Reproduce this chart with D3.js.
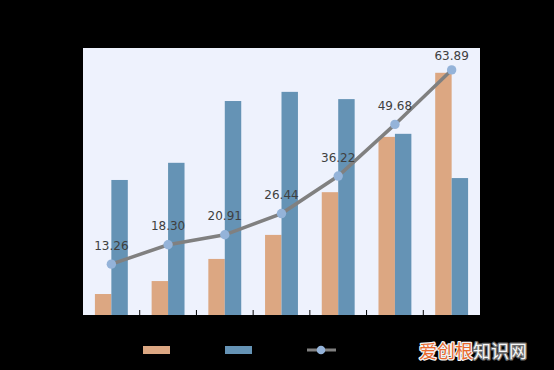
<!DOCTYPE html>
<html>
<head>
<meta charset="utf-8">
<script src="https://cdn.jsdelivr.net/npm/d3@7"></script>
<style>
  html, body { margin: 0; padding: 0; background: #000; }
  svg { display: block; }
</style>
</head>
<body>
<script>
// values (bars on left axis 0-70, line on right axis 0-70)
var categories = ["1", "2", "3", "4", "5", "6", "7"];
var seriesA = [5.5, 8.9, 14.7, 21.0, 32.2, 46.7, 63.5];     // orange bars
var seriesB = [35.4, 39.9, 56.1, 58.5, 56.6, 47.5, 35.9];   // blue bars
var lineValues = [13.26, 18.30, 20.91, 26.44, 36.22, 49.68, 63.89];

var width = 554, height = 370;
var margin = {top: 48, right: 74, bottom: 55, left: 83};
var plotW = width - margin.left - margin.right;
var plotH = height - margin.top - margin.bottom;

var orange = "#dca782", blue = "#6593b5", lineCol = "#808080", dotCol = "#94b3d9";

var svg = d3.select("body").append("svg")
    .attr("width", width)
    .attr("height", height)
    .attr("font-family", "DejaVu Sans, sans-serif");

svg.append("rect")
    .attr("width", width)
    .attr("height", height)
    .attr("fill", "#000");

var g = svg.append("g")
    .attr("transform", `translate(${margin.left},${margin.top})`);

g.append("rect")
    .attr("width", plotW)
    .attr("height", plotH)
    .attr("fill", "#eef2fd");

var x = d3.scaleBand()
    .domain(categories)
    .range([0, plotW])
    .paddingInner(0.42)
    .paddingOuter(0.21);

var x1 = d3.scaleBand()
    .domain(["a", "b"])
    .range([0, x.bandwidth()]);

var y = d3.scaleLinear().domain([0, 70]).range([plotH, 0]);
var y2 = d3.scaleLinear().domain([0, 69.6]).range([plotH, 0]);

// category boundary ticks (pointing up into the plot)
var step = x.step();
var bounds = d3.range(1, categories.length);
g.selectAll(".tick")
  .data(bounds)
  .join("line")
    .attr("x1", d => d * step)
    .attr("x2", d => d * step)
    .attr("y1", plotH - 5)
    .attr("y2", plotH)
    .attr("stroke", "#000")
    .attr("stroke-width", 1);

var grp = g.selectAll(".grp")
  .data(categories)
  .join("g")
    .attr("transform", d => `translate(${x(d)},0)`);

grp.append("rect")
    .attr("x", x1("a"))
    .attr("width", x1.bandwidth())
    .attr("y", (d, i) => y(seriesA[i]))
    .attr("height", (d, i) => plotH - y(seriesA[i]))
    .attr("fill", orange);

grp.append("rect")
    .attr("x", x1("b"))
    .attr("width", x1.bandwidth())
    .attr("y", (d, i) => y(seriesB[i]))
    .attr("height", (d, i) => plotH - y(seriesB[i]))
    .attr("fill", blue);

var cx = d => x(d) + x.bandwidth() / 2;

var line = d3.line()
    .x((d, i) => cx(categories[i]))
    .y(d => y2(d));

g.append("path")
    .datum(lineValues)
    .attr("d", line)
    .attr("fill", "none")
    .attr("stroke", lineCol)
    .attr("stroke-width", 3.5);

g.selectAll(".dot")
  .data(lineValues)
  .join("circle")
    .attr("cx", (d, i) => cx(categories[i]))
    .attr("cy", d => y2(d))
    .attr("r", 4.7)
    .attr("fill", dotCol);

g.selectAll(".lbl")
  .data(lineValues)
  .join("text")
    .attr("x", (d, i) => cx(categories[i]))
    .attr("y", d => Math.max(y2(d) - 14.5, 12))
    .attr("text-anchor", "middle")
    .attr("font-size", "12px")
    .attr("fill", "#404040")
    .text(d => d.toFixed(2));

// legend (labels are black on black in the original)
var leg = svg.append("g").attr("transform", "translate(0,350)");
leg.append("rect").attr("x", 143).attr("y", -4).attr("width", 27).attr("height", 8).attr("fill", orange);
leg.append("rect").attr("x", 225).attr("y", -4).attr("width", 27).attr("height", 8).attr("fill", blue);
leg.append("line").attr("x1", 307).attr("x2", 336).attr("y1", 0).attr("y2", 0)
    .attr("stroke", lineCol).attr("stroke-width", 3);
leg.append("circle").attr("cx", 321).attr("cy", 0).attr("r", 4.3).attr("fill", dotCol);

// watermark
var wm = svg.append("text")
    .attr("x", 419)
    .attr("y", 358)
    .attr("font-family", "Noto Sans CJK SC, sans-serif")
    .attr("font-size", "18px")
    .attr("stroke-width", 2.5)
    .attr("stroke-linejoin", "round")
    .attr("paint-order", "stroke");
wm.append("tspan").attr("fill", "#e8692e").attr("stroke", "#f4f4f4").text("爱创根");
wm.append("tspan").attr("fill", "#f6f6f6").attr("stroke", "#707070").text("知识网");
</script>
</body>
</html>
